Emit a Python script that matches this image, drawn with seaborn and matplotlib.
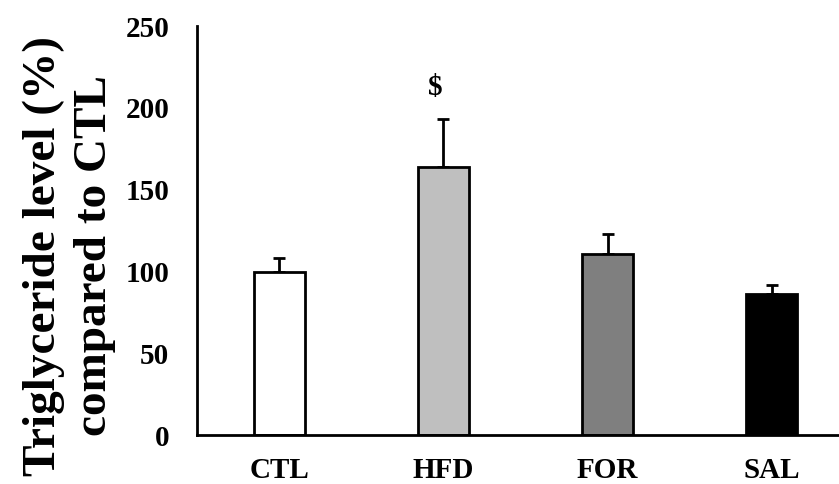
import matplotlib
matplotlib.use("Agg")
import matplotlib.pyplot as plt
import seaborn as sns
import pandas as pd

groups = ["CTL", "HFD", "FOR", "SAL"]
means = [100, 164, 111, 86]
sem = [8, 29, 12, 6]
bar_colors = ["#FFFFFF", "#BFBFBF", "#7F7F7F", "#000000"]
y_ticks = [0, 50, 100, 150, 200, 250]
marks = ["", "$", "", ""]

sns.set_theme(style="white")
plt.rcParams["font.family"] = ["Liberation Serif", "DejaVu Serif"]
plt.rcParams["font.weight"] = "bold"
plt.rcParams["text.color"] = "black"
plt.rcParams["axes.labelcolor"] = "black"
plt.rcParams["xtick.color"] = "black"
plt.rcParams["ytick.color"] = "black"

df = pd.DataFrame({"group": groups, "value": means})

fig = plt.figure(figsize=(8.39, 4.84), dpi=100)
ax = fig.add_axes([0.235, 0.101, 0.765, 0.845])

sns.barplot(data=df, x="group", y="value", hue="group", palette=bar_colors,
            legend=False, width=0.31, edgecolor="black", linewidth=2,
            errorbar=None, ax=ax)

ax.errorbar(range(len(groups)), means, yerr=[[0] * len(groups), sem],
            fmt="none", ecolor="black", elinewidth=2, capsize=4.5, capthick=2,
            zorder=0)

for i, (m, s, t) in enumerate(zip(means, sem, marks)):
    if t:
        ax.text(i - 0.05, m + s + 11, t, ha="center", va="bottom",
                fontsize=21, fontweight="bold", color="black")

ax.set_xlim(-0.5, 3.41)
ax.set_ylim(0, 250)
ax.set_yticks(y_ticks)
ax.set_yticklabels([str(v) for v in y_ticks])
ax.tick_params(axis="y", length=0, labelsize=21, pad=20)
ax.tick_params(axis="x", length=0, labelsize=21, pad=16)
for lab in ax.get_xticklabels() + ax.get_yticklabels():
    lab.set_fontweight("bold")

ax.set_xlabel("")
ax.set_ylabel("Triglyceride level (%)\ncompared to CTL", fontsize=34,
              fontweight="bold", linespacing=1.3)
ax.yaxis.set_label_coords(-0.126, 0.438)

for side in ["top", "right"]:
    ax.spines[side].set_visible(False)
for side in ["left", "bottom"]:
    ax.spines[side].set_color("black")
    ax.spines[side].set_linewidth(2)

fig.savefig("out.png", dpi=100)
